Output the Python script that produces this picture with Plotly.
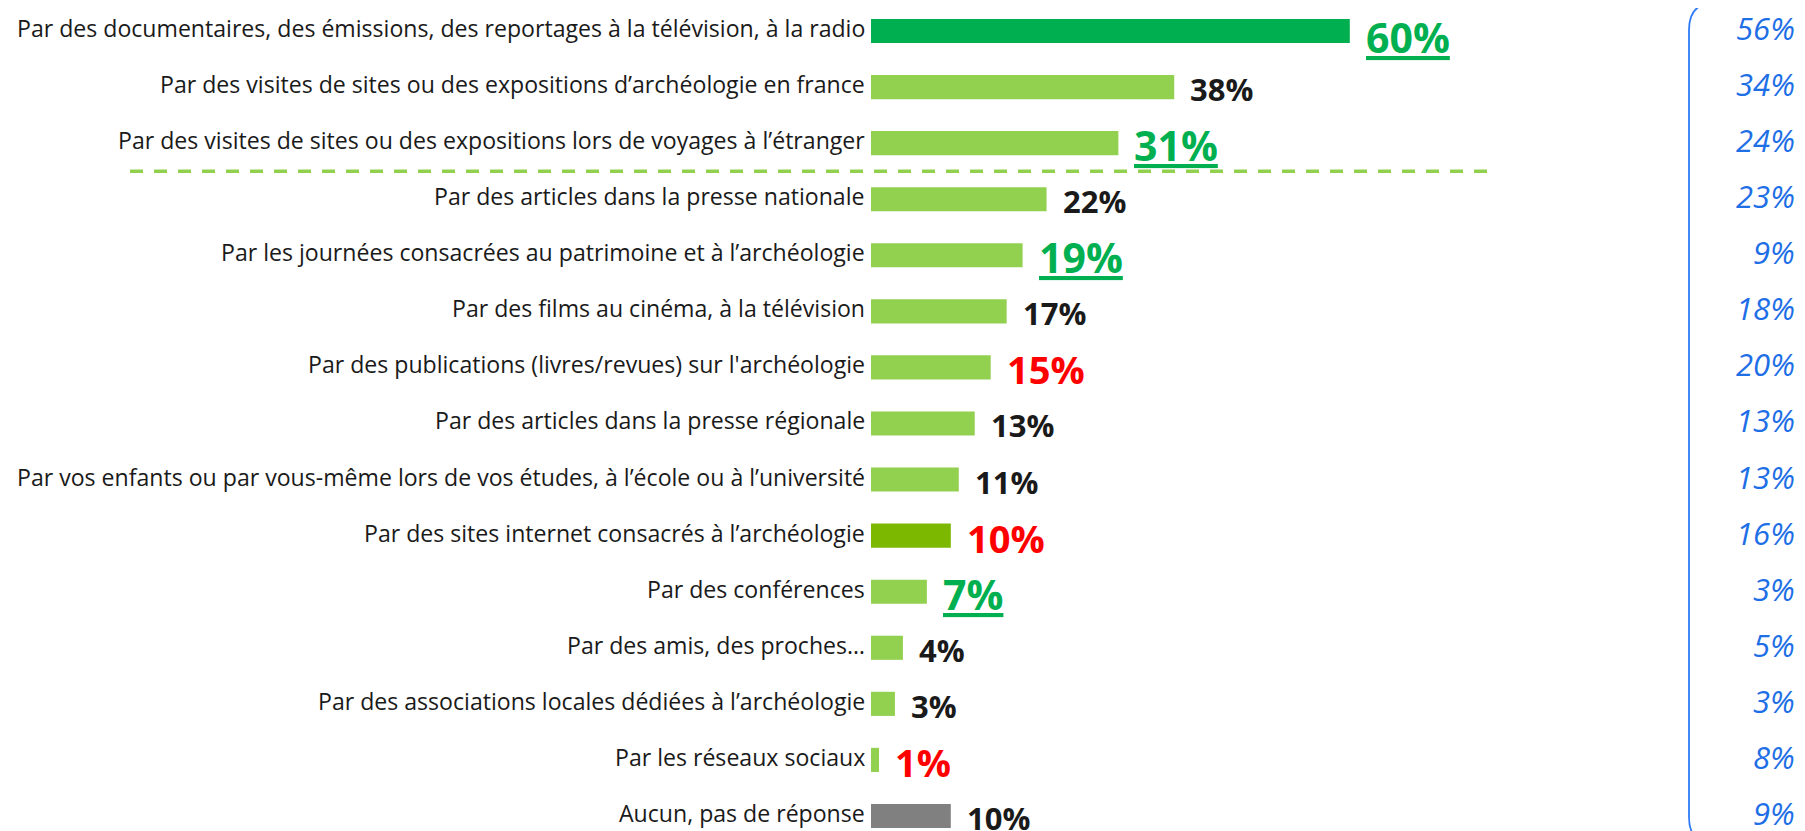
import plotly.graph_objects as go

categories = [
    "Par des documentaires, des émissions, des reportages à la télévision, à la radio",
    "Par des visites de sites ou des expositions d’archéologie en france",
    "Par des visites de sites ou des expositions lors de voyages à l’étranger",
    "Par des articles dans la presse nationale",
    "Par les journées consacrées au patrimoine et à l’archéologie",
    "Par des films au cinéma, à la télévision",
    "Par des publications (livres/revues) sur l'archéologie",
    "Par des articles dans la presse régionale",
    "Par vos enfants ou par vous-même lors de vos études, à l’école ou à l’université",
    "Par des sites internet consacrés à l’archéologie",
    "Par des conférences",
    "Par des amis, des proches…",
    "Par des associations locales dédiées à l’archéologie",
    "Par les réseaux sociaux",
    "Aucun, pas de réponse",
]
values = [60, 38, 31, 22, 19, 17, 15, 13, 11, 10, 7, 4, 3, 1, 10]
previous_values = [56, 34, 24, 23, 9, 18, 20, 13, 13, 16, 3, 5, 3, 8, 9]
# evolution flag: "up" (green underlined), "down" (red), "" (black)
evolution = ["up", "", "up", "", "up", "", "down", "", "", "down", "up", "", "", "down", ""]

bar_colors = ["#00B050"] + ["#92D050"] * 8 + ["#7CB800"] + ["#92D050"] * 4 + ["#808080"]

OFF = 8  # page body margin
W, H = 1805 - OFF, 831 - OFF
ML = 871 - OFF
plot_w = W - ML
px_per_unit = 7.98
x_max = plot_w / px_per_unit
row_px = 56.07
y_top = -(31 - OFF) / row_px
y_bot = y_top + H / row_px


def px_x(p):
    return (p - OFF - ML) / plot_w


def px_y(p):
    return 1 - (p - OFF) / H


fig = go.Figure()
fig.add_trace(go.Bar(
    x=values, y=categories, orientation="h",
    marker=dict(color=bar_colors, line=dict(width=0)),
    width=0.43, hoverinfo="skip",
))

annotations = []
for i, (cat, v, ev) in enumerate(zip(categories, values, evolution)):
    annotations.append(dict(
        x=0, y=cat, xref="x", yref="y", text=cat, showarrow=False,
        xanchor="right", yanchor="middle", xshift=-4, yshift=3,
        font=dict(family="Open Sans", size=23.1, color="#1a1a1a"),
    ))
    if ev == "up":
        txt, col, fs = f"<u>{v}%</u>", "#00B050", 41
    elif ev == "down":
        txt, col, fs = f"{v}%", "#FF0000", 38
    else:
        txt, col, fs = f"{v}%", "#1a1a1a", 31
    annotations.append(dict(
        x=v, y=cat, xref="x", yref="y", text=txt, showarrow=False,
        xanchor="left", yanchor="middle", xshift=14,
        yshift=(-6 if i == 0 else -2),
        font=dict(family="Open Sans", size=fs, color=col, weight="bold"),
    ))
    annotations.append(dict(
        x=px_x(1797), y=cat, xref="paper", yref="y",
        text=f"{previous_values[i]}%", showarrow=False,
        xanchor="right", yanchor="middle", yshift=3,
        font=dict(family="Open Sans", size=31, color="#1E6FE6", style="italic"),
    ))

# dashed separator after the top 3
shapes = [dict(
    type="line", xref="paper", yref="y",
    x0=px_x(130), x1=px_x(1495), y0=2.5, y1=2.5,
    line=dict(color="#92D050", width=3.5, dash="13px,11px"),
)]
# rounded bracket on the right
r = 28
x0, y0, y1 = 1689, 2, 845
path = (
    f"M {px_x(1820)},{px_y(y0)} L {px_x(x0 + r)},{px_y(y0)} "
    f"Q {px_x(x0)},{px_y(y0)} {px_x(x0)},{px_y(y0 + r)} "
    f"L {px_x(x0)},{px_y(y1 - r)} "
    f"Q {px_x(x0)},{px_y(y1)} {px_x(x0 + r)},{px_y(y1)}"
)
shapes.append(dict(type="path", xref="paper", yref="paper", path=path,
                   line=dict(color="#2F7BF5", width=1.8)))

fig.update_layout(
    width=W, height=H,
    margin=dict(l=ML, r=0, t=0, b=0),
    plot_bgcolor="white", paper_bgcolor="white",
    showlegend=False,
    xaxis=dict(range=[0, x_max], visible=False, fixedrange=True),
    yaxis=dict(type="category", categoryorder="array", categoryarray=categories,
               range=[y_bot, y_top], showticklabels=False, showgrid=False,
               zeroline=False, showline=False, ticks=""),
    annotations=annotations,
    shapes=shapes,
)
fig.write_html("out.html")
